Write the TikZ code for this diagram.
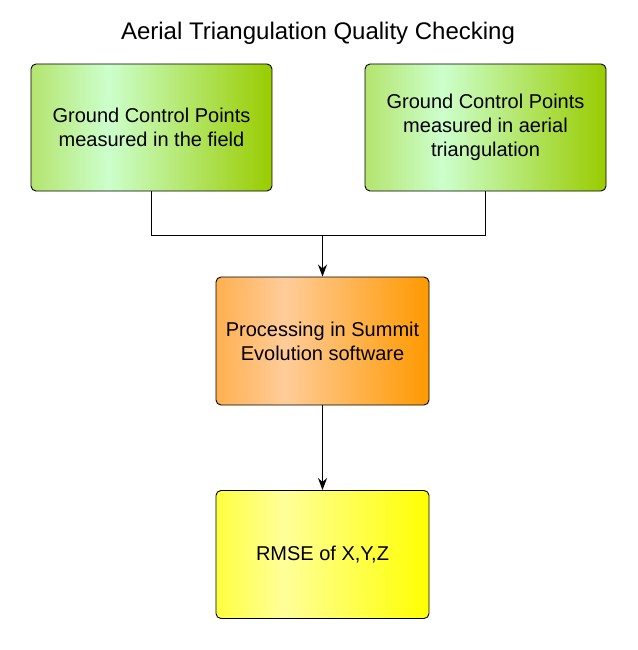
\documentclass[tikz,border=0pt]{standalone}
\usepackage{fontspec}
\setmainfont{Liberation Sans}
\usetikzlibrary{arrows.meta}
\definecolor{gA}{RGB}{180,228,110}
\definecolor{gL}{RGB}{204,255,204}
\definecolor{gD}{RGB}{153,204,0}
\definecolor{oA}{RGB}{255,176,80}
\definecolor{oL}{RGB}{255,204,153}
\definecolor{oD}{RGB}{255,153,0}
\definecolor{yA}{RGB}{255,255,64}
\definecolor{yL}{RGB}{255,255,153}
\definecolor{yD}{RGB}{255,255,0}
\pgfdeclarehorizontalshading{greenshade}{100bp}{color(0bp)=(gA); color(25bp)=(gA); color(41bp)=(gL); color(75bp)=(gD); color(100bp)=(gD)}
\pgfdeclarehorizontalshading{orangeshade}{100bp}{color(0bp)=(oA); color(25bp)=(oA); color(41bp)=(oL); color(75bp)=(oD); color(100bp)=(oD)}
\pgfdeclarehorizontalshading{yellowshade}{100bp}{color(0bp)=(yA); color(25bp)=(yA); color(41bp)=(yL); color(75bp)=(yD); color(100bp)=(yD)}
\tikzset{
  box/.style={draw=black, line width=0.9pt, rounded corners=5pt, inner sep=0pt, align=center,
    font=\fontsize{20}{24}\selectfont},
  wide/.style={box, minimum width=241pt, minimum height=127pt},
  narrow/.style={box, minimum width=213pt, minimum height=128pt},
  conn/.style={line width=1pt, black},
  arr/.style={conn, -{Stealth[length=12pt,width=9pt]}}
}
\begin{document}
\begin{tikzpicture}[x=1pt,y=-1pt]
\useasboundingbox (0,0) rectangle (637,650);
\node[font=\fontsize{24}{28}\selectfont] (title) at (318,33) {Aerial Triangulation Quality Checking};
\node[wide, shade, shading=greenshade] (g1) at (151.5,127.5) {Ground Control Points\\measured in the field};
\node[wide, shade, shading=greenshade] (g2) at (485.5,127.5) {Ground Control Points\\measured in aerial\\triangulation};
\node[narrow, shade, shading=orangeshade] (p) at (322.5,341) {Processing in Summit\\Evolution software};
\node[narrow, shade, shading=yellowshade] (r) at (322.5,554.5) {RMSE of X,Y,Z};
\coordinate (j) at (322.5,235);
\draw[conn] (g1.south) |- (j);
\draw[conn] (g2.south) |- (j);
\draw[arr] (j) -- (p.north);
\draw[arr] (p.south) -- (r.north);
\end{tikzpicture}
\end{document}
